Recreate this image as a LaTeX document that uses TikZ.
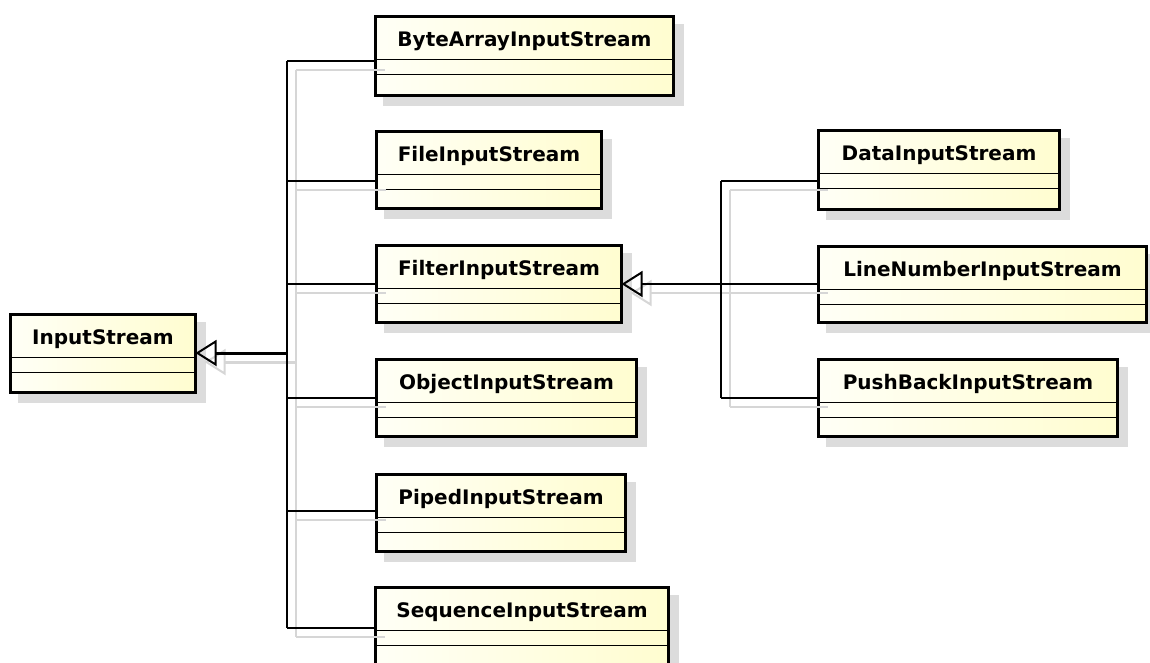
\documentclass[tikz,border=0pt]{standalone}
\usepackage{fontspec}
\setmainfont{DejaVu Sans}
\usetikzlibrary{arrows.meta,calc}

\definecolor{fillA}{RGB}{255,255,246}
\definecolor{fillB}{RGB}{255,253,208}
\definecolor{shadowgray}{RGB}{220,220,220}
\definecolor{wireshadow}{RGB}{214,214,214}

\tikzset{
  classbox/.style={draw=black, line width=3pt, inner sep=0pt, outer sep=0pt,
    left color=fillA, right color=fillB, rectangle},
  classtitle/.style={font=\bfseries\fontsize{20}{22}\selectfont, inner sep=0pt},
  divider/.style={line width=1.4pt},
  conn/.style={line width=1.5pt},
  generalize/.style={line width=#1, -{Triangle[open, length=21pt, width=26pt, line width=2pt]}},
  generalize/.default=2pt,
}

% a class box: name, left, top, width, height, title
\newcommand\classnode[6]{%
  \fill[shadowgray] (#2+9,#3+9) rectangle (#2+#4+9,#3+#5+9);
  \node[classbox, minimum width={(#4-3)*1pt}, minimum height={(#5-3)*1pt},
        anchor=north west] (#1) at (#2+1.5,#3+1.5) {};
  \node[classtitle, anchor=base] (#1-title) at ($(#1.north)+(0,30)$) {#6};
  \draw[divider] ($(#1.north west)+(0,43)$) -- ($(#1.north east)+(0,43)$);
  \draw[divider] ($(#1.north west)+(0,58)$) -- ($(#1.north east)+(0,58)$);
}

% generalization wiring of both hierarchies
\newcommand\wiring[1]{%
  \begin{scope}[#1]
    % InputStream subclasses
    \draw[conn] (jA) -- (jF);
    \draw[conn] (jA) -- (bais.west |- jA);
    \draw[conn] (jB) -- (fis.west |- jB);
    \draw[conn] (jC) -- (filter.west |- jC);
    \draw[conn] (jD) -- (ois.west |- jD);
    \draw[conn] (jE) -- (pis.west |- jE);
    \draw[conn] (jF) -- (sis.west |- jF);
    \draw[generalize=3pt] (jR) -- (is.east |- jR);
    % FilterInputStream subclasses
    \draw[conn] (kA) -- (kC);
    \draw[conn] (kA) -- (dis.west |- kA);
    \draw[conn] (kC) -- (pbis.west |- kC);
    \draw[conn] (lnis.west |- kB) -- (kB);
    \draw[generalize] (kB) -- (filter.east |- kB);
  \end{scope}
}

\begin{document}
\begin{tikzpicture}[x=1pt, y=-1pt]
  \useasboundingbox (0,0) rectangle (1150,662);
  \clip (0,0) rectangle (1150,662);
  \fill[white] (0,0) rectangle (1150,662);

  \classnode{is}{9}{313}{188}{81}{InputStream}
  \classnode{bais}{374}{15}{301}{82}{ByteArrayInputStream}
  \classnode{fis}{375}{130}{228}{80}{FileInputStream}
  \classnode{filter}{375}{244}{248}{80}{FilterInputStream}
  \classnode{ois}{375}{358}{263}{80}{ObjectInputStream}
  \classnode{pis}{375}{473}{252}{80}{PipedInputStream}
  \classnode{sis}{374}{586}{296}{82}{SequenceInputStream}
  \classnode{dis}{817}{129}{244}{82}{DataInputStream}
  \classnode{lnis}{817}{245}{331}{79}{LineNumberInputStream}
  \classnode{pbis}{817}{358}{302}{80}{PushBackInputStream}

  % junction points on the two trunks
  \coordinate (jA) at (287,61);
  \coordinate (jB) at (287,181);
  \coordinate (jC) at (287,284);
  \coordinate (jD) at (287,398);
  \coordinate (jE) at (287,511);
  \coordinate (jF) at (287,628);
  \coordinate (jR) at (287,353);
  \coordinate (kA) at (721,181);
  \coordinate (kB) at (721,284);
  \coordinate (kC) at (721,398);

  % soft drop shadow of the wiring, then the wiring itself
  \wiring{draw=wireshadow, color=wireshadow, transform canvas={shift={(9pt,-9pt)}}}
  \wiring{}
\end{tikzpicture}
\end{document}
